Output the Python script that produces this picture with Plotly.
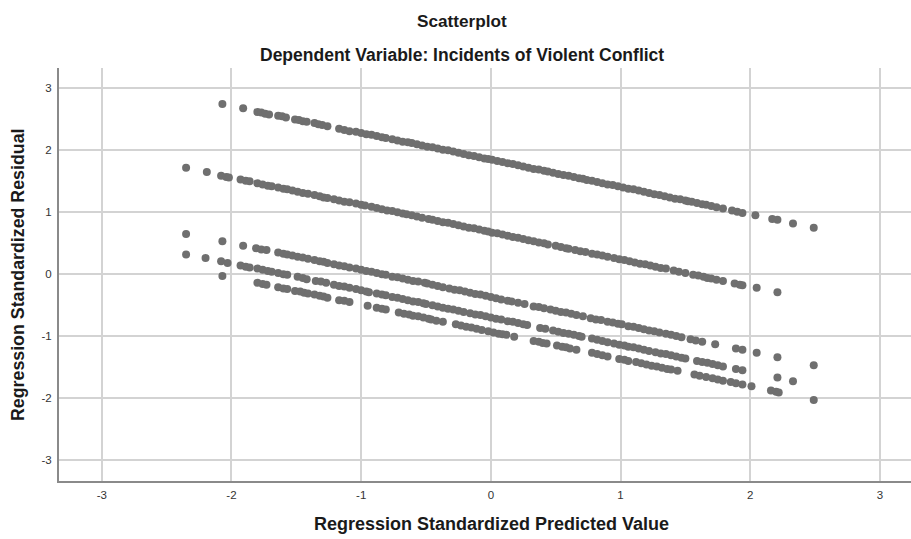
import plotly.graph_objects as go

# Regression standardized predicted value (x) and residual (y), read per diagonal band
line_a_x = [-2.07, -1.91, -1.80, -1.77, -1.74, -1.71, -1.64, -1.61, -1.58, -1.51, -1.48, -1.45, -1.42, -1.36, -1.33, -1.30, -1.26, -1.17, -1.13, -1.09, -1.04, -1.00, -0.96, -0.92, -0.88, -0.84, -0.81, -0.76, -0.72, -0.68, -0.64, -0.61, -0.57, -0.53, -0.49, -0.45, -0.41, -0.37, -0.33, -0.29, -0.25, -0.21, -0.17, -0.13, -0.09, -0.05, -0.02, 0.01, 0.05, 0.09, 0.13, 0.17, 0.21, 0.25, 0.29, 0.33, 0.37, 0.41, 0.44, 0.48, 0.52, 0.56, 0.60, 0.64, 0.68, 0.71, 0.74, 0.78, 0.82, 0.86, 0.90, 0.94, 0.98, 1.02, 1.06, 1.10, 1.14, 1.18, 1.22, 1.26, 1.30, 1.34, 1.38, 1.42, 1.46, 1.50, 1.52, 1.55, 1.59, 1.63, 1.66, 1.70, 1.74, 1.79, 1.86, 1.90, 1.94, 2.04, 2.17, 2.21, 2.33, 2.49]
line_a_y = [2.75, 2.68, 2.62, 2.61, 2.59, 2.58, 2.56, 2.55, 2.53, 2.50, 2.49, 2.47, 2.46, 2.44, 2.42, 2.41, 2.39, 2.35, 2.33, 2.31, 2.30, 2.28, 2.26, 2.25, 2.23, 2.21, 2.20, 2.18, 2.16, 2.14, 2.13, 2.12, 2.10, 2.08, 2.06, 2.05, 2.03, 2.01, 2.00, 1.98, 1.96, 1.94, 1.92, 1.91, 1.89, 1.87, 1.86, 1.85, 1.83, 1.81, 1.79, 1.78, 1.76, 1.74, 1.72, 1.70, 1.69, 1.67, 1.66, 1.64, 1.62, 1.60, 1.59, 1.57, 1.55, 1.54, 1.52, 1.51, 1.49, 1.47, 1.45, 1.44, 1.42, 1.40, 1.38, 1.37, 1.35, 1.33, 1.31, 1.29, 1.28, 1.26, 1.24, 1.22, 1.21, 1.19, 1.18, 1.17, 1.15, 1.13, 1.12, 1.10, 1.08, 1.06, 1.03, 1.01, 0.99, 0.95, 0.89, 0.88, 0.82, 0.75]

line_b_x = [-2.35, -2.19, -2.08, -2.04, -2.02, -1.93, -1.89, -1.86, -1.80, -1.76, -1.72, -1.69, -1.64, -1.60, -1.57, -1.53, -1.49, -1.45, -1.41, -1.36, -1.32, -1.29, -1.26, -1.21, -1.17, -1.13, -1.09, -1.04, -1.00, -0.97, -0.92, -0.88, -0.84, -0.80, -0.76, -0.72, -0.68, -0.65, -0.61, -0.57, -0.53, -0.48, -0.45, -0.41, -0.37, -0.33, -0.29, -0.25, -0.21, -0.17, -0.13, -0.09, -0.05, -0.02, 0.01, 0.05, 0.09, 0.13, 0.17, 0.21, 0.25, 0.29, 0.33, 0.37, 0.41, 0.44, 0.50, 0.54, 0.58, 0.60, 0.65, 0.69, 0.73, 0.78, 0.82, 0.86, 0.90, 0.95, 0.99, 1.03, 1.07, 1.11, 1.15, 1.19, 1.23, 1.27, 1.31, 1.35, 1.41, 1.45, 1.50, 1.56, 1.60, 1.64, 1.67, 1.70, 1.74, 1.79, 1.88, 1.92, 1.94, 2.05, 2.21]
line_b_y = [1.72, 1.65, 1.59, 1.57, 1.56, 1.53, 1.51, 1.50, 1.47, 1.45, 1.43, 1.42, 1.40, 1.38, 1.37, 1.35, 1.33, 1.31, 1.30, 1.28, 1.26, 1.24, 1.23, 1.21, 1.19, 1.17, 1.16, 1.14, 1.12, 1.11, 1.09, 1.07, 1.05, 1.03, 1.02, 1.00, 0.98, 0.97, 0.95, 0.93, 0.91, 0.89, 0.88, 0.86, 0.84, 0.83, 0.81, 0.79, 0.77, 0.75, 0.74, 0.72, 0.70, 0.69, 0.67, 0.66, 0.64, 0.62, 0.60, 0.59, 0.57, 0.55, 0.53, 0.51, 0.50, 0.48, 0.46, 0.44, 0.42, 0.41, 0.39, 0.37, 0.36, 0.33, 0.32, 0.30, 0.28, 0.26, 0.24, 0.23, 0.21, 0.19, 0.17, 0.16, 0.14, 0.12, 0.10, 0.09, 0.06, 0.04, 0.02, -0.01, -0.02, -0.04, -0.06, -0.07, -0.09, -0.11, -0.15, -0.17, -0.18, -0.22, -0.29]

line_c_x = [-2.35, -2.07, -1.91, -1.81, -1.77, -1.73, -1.64, -1.60, -1.57, -1.53, -1.49, -1.45, -1.41, -1.36, -1.32, -1.29, -1.26, -1.21, -1.17, -1.13, -1.09, -1.04, -1.00, -0.96, -0.92, -0.88, -0.84, -0.81, -0.76, -0.72, -0.68, -0.64, -0.60, -0.56, -0.51, -0.49, -0.45, -0.41, -0.37, -0.32, -0.28, -0.24, -0.20, -0.16, -0.12, -0.08, -0.04, 0.00, 0.04, 0.08, 0.13, 0.16, 0.21, 0.26, 0.33, 0.37, 0.41, 0.46, 0.50, 0.54, 0.58, 0.62, 0.66, 0.71, 0.77, 0.81, 0.85, 0.90, 0.94, 0.98, 1.01, 1.06, 1.10, 1.14, 1.18, 1.22, 1.26, 1.30, 1.35, 1.39, 1.43, 1.47, 1.54, 1.58, 1.63, 1.73, 1.89, 1.94, 2.05, 2.21, 2.49]
line_c_y = [0.65, 0.53, 0.46, 0.42, 0.40, 0.39, 0.35, 0.33, 0.32, 0.30, 0.28, 0.27, 0.25, 0.23, 0.21, 0.20, 0.18, 0.16, 0.14, 0.13, 0.11, 0.09, 0.07, 0.05, 0.04, 0.02, 0.00, -0.01, -0.04, -0.05, -0.07, -0.09, -0.11, -0.12, -0.14, -0.15, -0.17, -0.19, -0.21, -0.23, -0.25, -0.26, -0.28, -0.30, -0.32, -0.33, -0.35, -0.37, -0.39, -0.41, -0.43, -0.44, -0.46, -0.48, -0.52, -0.53, -0.55, -0.57, -0.59, -0.61, -0.62, -0.64, -0.66, -0.68, -0.71, -0.73, -0.74, -0.77, -0.78, -0.80, -0.81, -0.84, -0.85, -0.87, -0.89, -0.91, -0.92, -0.94, -0.96, -0.98, -1.00, -1.02, -1.05, -1.07, -1.09, -1.13, -1.20, -1.22, -1.27, -1.34, -1.47]

line_d_x = [-2.35, -2.20, -2.08, -2.03, -1.93, -1.89, -1.86, -1.80, -1.76, -1.72, -1.69, -1.64, -1.60, -1.57, -1.49, -1.45, -1.42, -1.35, -1.31, -1.27, -1.21, -1.17, -1.13, -1.09, -1.04, -1.00, -0.96, -0.94, -0.88, -0.84, -0.81, -0.76, -0.72, -0.68, -0.64, -0.60, -0.56, -0.52, -0.50, -0.45, -0.41, -0.37, -0.33, -0.29, -0.25, -0.21, -0.16, -0.12, -0.08, -0.04, 0.00, 0.04, 0.08, 0.13, 0.17, 0.21, 0.25, 0.28, 0.38, 0.42, 0.48, 0.52, 0.56, 0.60, 0.64, 0.68, 0.70, 0.78, 0.82, 0.86, 0.90, 0.95, 0.99, 1.03, 1.06, 1.10, 1.14, 1.18, 1.22, 1.27, 1.31, 1.35, 1.39, 1.43, 1.47, 1.50, 1.59, 1.63, 1.67, 1.71, 1.75, 1.79, 1.89, 1.94, 2.21, 2.33]
line_d_y = [0.32, 0.26, 0.21, 0.18, 0.14, 0.12, 0.11, 0.09, 0.07, 0.05, 0.04, 0.02, 0.00, -0.01, -0.04, -0.06, -0.08, -0.11, -0.12, -0.14, -0.17, -0.19, -0.20, -0.22, -0.24, -0.26, -0.28, -0.29, -0.31, -0.33, -0.34, -0.37, -0.38, -0.40, -0.42, -0.44, -0.45, -0.47, -0.48, -0.50, -0.52, -0.54, -0.56, -0.57, -0.59, -0.61, -0.63, -0.65, -0.66, -0.68, -0.70, -0.72, -0.73, -0.76, -0.77, -0.79, -0.81, -0.82, -0.87, -0.88, -0.91, -0.93, -0.95, -0.96, -0.98, -1.00, -1.01, -1.04, -1.06, -1.08, -1.10, -1.12, -1.14, -1.15, -1.17, -1.18, -1.20, -1.22, -1.24, -1.26, -1.28, -1.29, -1.31, -1.33, -1.35, -1.36, -1.40, -1.42, -1.43, -1.45, -1.47, -1.49, -1.53, -1.55, -1.67, -1.73]

line_e_x = [-2.07, -1.80, -1.76, -1.73, -1.64, -1.60, -1.57, -1.51, -1.47, -1.44, -1.41, -1.36, -1.32, -1.29, -1.26, -1.17, -1.13, -1.09, -0.95, -0.88, -0.84, -0.81, -0.71, -0.67, -0.63, -0.60, -0.56, -0.52, -0.48, -0.46, -0.42, -0.37, -0.27, -0.23, -0.19, -0.15, -0.11, -0.07, -0.02, 0.02, 0.06, 0.09, 0.12, 0.18, 0.33, 0.37, 0.40, 0.43, 0.51, 0.55, 0.58, 0.61, 0.66, 0.78, 0.82, 0.86, 0.90, 0.99, 1.03, 1.06, 1.12, 1.16, 1.20, 1.24, 1.28, 1.32, 1.36, 1.39, 1.44, 1.57, 1.61, 1.66, 1.71, 1.75, 1.79, 1.85, 1.89, 1.94, 2.01, 2.16, 2.20, 2.22, 2.49]
line_e_y = [-0.03, -0.14, -0.16, -0.17, -0.21, -0.23, -0.24, -0.27, -0.28, -0.30, -0.31, -0.33, -0.35, -0.36, -0.38, -0.42, -0.43, -0.45, -0.51, -0.54, -0.56, -0.57, -0.62, -0.64, -0.65, -0.67, -0.68, -0.70, -0.72, -0.73, -0.75, -0.77, -0.81, -0.83, -0.85, -0.86, -0.88, -0.90, -0.92, -0.94, -0.96, -0.97, -0.98, -1.01, -1.08, -1.09, -1.11, -1.12, -1.15, -1.17, -1.18, -1.20, -1.22, -1.27, -1.29, -1.31, -1.33, -1.37, -1.38, -1.40, -1.42, -1.44, -1.46, -1.48, -1.49, -1.51, -1.53, -1.54, -1.56, -1.62, -1.64, -1.66, -1.68, -1.70, -1.72, -1.74, -1.76, -1.78, -1.81, -1.88, -1.90, -1.91, -2.03]

tick_values = [-3, -2, -1, 0, 1, 2, 3]
tick_labels = ["-3", "-2", "-1", "0", "1", "2", "3"]

title_text = "Scatterplot"
subtitle_text = "Dependent Variable: Incidents of Violent Conflict"
x_title = "Regression Standardized Predicted Value"
y_title = "Regression Standardized Residual"

all_x = line_a_x + line_b_x + line_c_x + line_d_x + line_e_x
all_y = line_a_y + line_b_y + line_c_y + line_d_y + line_e_y

FONT = "Liberation Sans, Arial, sans-serif"

fig = go.Figure()
fig.add_trace(go.Scatter(
    x=all_x, y=all_y, mode="markers",
    marker=dict(size=8, color="#6f6f6f", line=dict(width=0)),
    showlegend=False, hoverinfo="x+y",
))

axis_common = dict(
    tickvals=tick_values, ticktext=tick_labels,
    showgrid=True, gridcolor="#d3d3d3", gridwidth=1.5,
    zeroline=False, showline=True, linecolor="#8a8a8a", linewidth=2,
    ticks="", tickfont=dict(family=FONT, size=11.5, color="#333333"),
    fixedrange=True,
)

fig.update_layout(
    width=911, height=539,
    margin=dict(l=59, r=0, t=68, b=58),
    paper_bgcolor="white", plot_bgcolor="white",
    xaxis=dict(range=[-3.33, 3.24], ticklabelstandoff=2, **axis_common),
    yaxis=dict(range=[-3.34, 3.33], ticklabelstandoff=3, **axis_common),
    annotations=[
        dict(text="<b>%s</b>" % title_text, xref="paper", yref="paper",
             x=(461.5 - 59) / 852, y=(481 - 20.8) / 413, xanchor="center", yanchor="middle",
             showarrow=False, font=dict(family=FONT, size=17.2, color="#1a1a1a")),
        dict(text="<b>%s</b>" % subtitle_text, xref="paper", yref="paper",
             x=(461.5 - 59) / 852, y=(481 - 55) / 413, xanchor="center", yanchor="middle",
             showarrow=False, font=dict(family=FONT, size=17.5, color="#1a1a1a")),
        dict(text="<b>%s</b>" % x_title, xref="paper", yref="paper",
             x=(491 - 59) / 852, y=(481 - 524) / 413, xanchor="center", yanchor="middle",
             showarrow=False, font=dict(family=FONT, size=18, color="#1a1a1a")),
        dict(text="<b>%s</b>" % y_title, xref="paper", yref="paper",
             x=(18 - 59) / 852, y=(481 - 275) / 413, xanchor="center", yanchor="middle",
             showarrow=False, textangle=-90, font=dict(family=FONT, size=17.8, color="#1a1a1a")),
    ],
)

fig.write_html(
    "out.html",
    config={"displayModeBar": False},
    post_script="document.body.style.margin='0';document.body.style.overflow='hidden';",
)
